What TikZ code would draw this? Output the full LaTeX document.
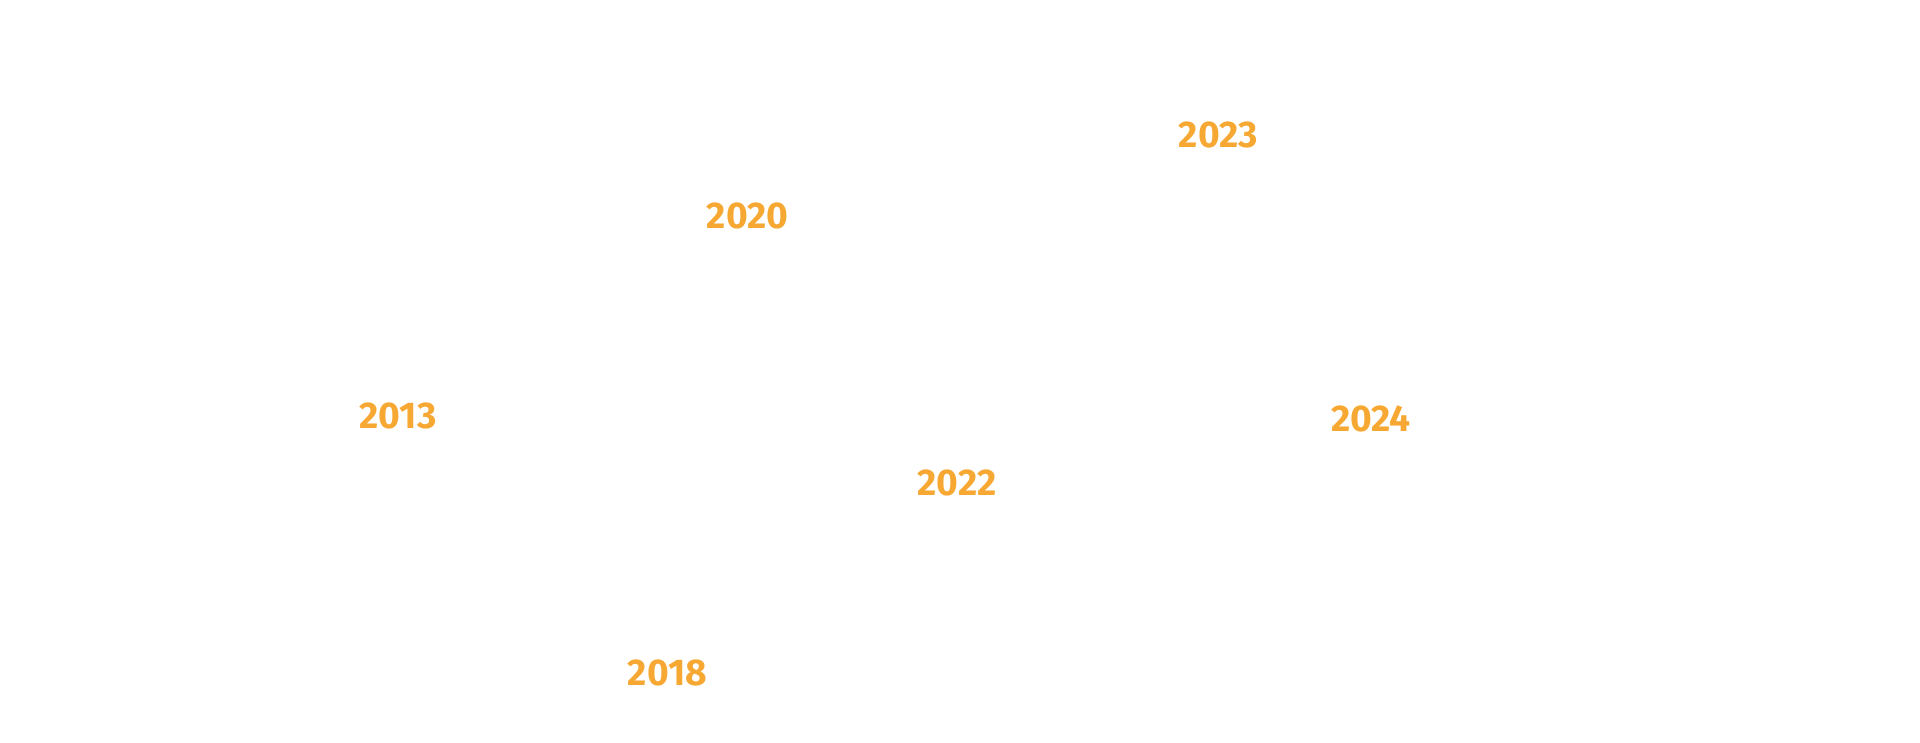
\documentclass[tikz,border=0pt]{standalone}
\usepackage{fontspec}
\setmainfont{Fira Sans}
\definecolor{yearorange}{HTML}{F7A833}
\begin{document}
\begin{tikzpicture}[x=0.5pt,y=-0.5pt,
  year/.style={inner sep=0pt, anchor=center, text=yearorange, font=\fontsize{18.6pt}{20pt}\selectfont\bfseries}]
\useasboundingbox[fill=white] (0,0) rectangle (1920,743);
\node[year] (y2020) at (747.6,215.5) {2020};
\node[year] (y2023) at (1218.4,135.3) {2023};
\node[year] (y2013) at (398,416.3) {2013};
\node[year] (y2024) at (1370.9,419.4) {2024};
\node[year] (y2022) at (957,483) {2022};
\node[year] (y2018) at (667.4,672.9) {2018};
\end{tikzpicture}
\end{document}
